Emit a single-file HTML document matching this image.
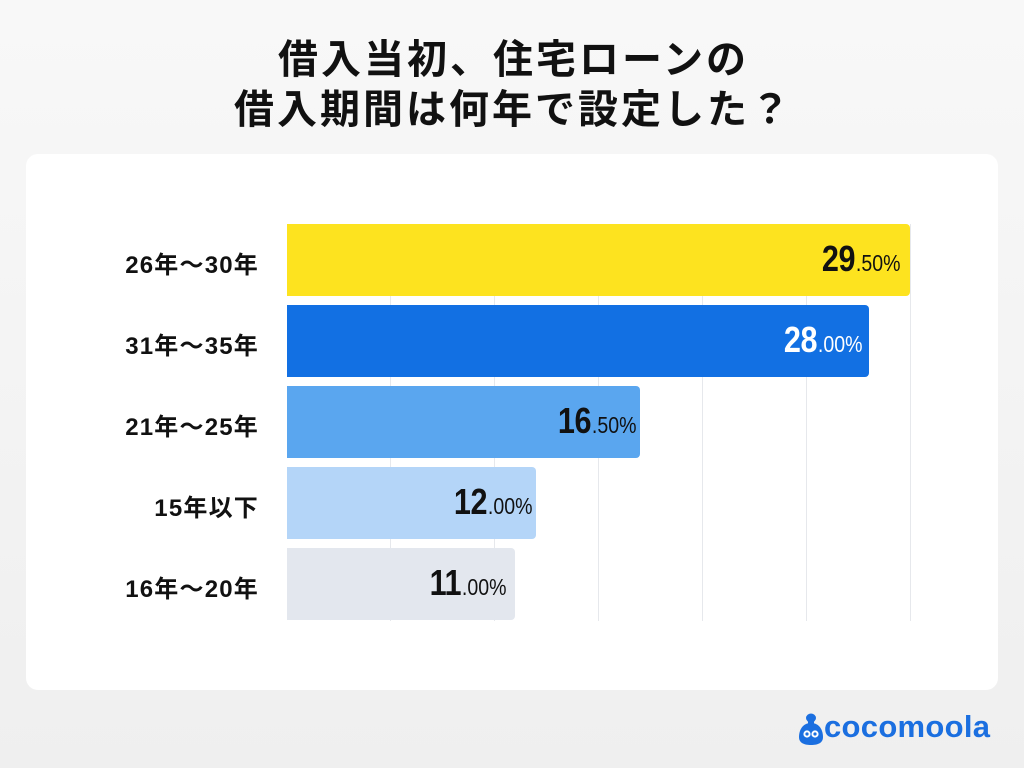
<!DOCTYPE html>
<html>
<head>
<meta charset="utf-8">
<style>
  html,body{margin:0;padding:0;}
  body{width:1024px;height:768px;position:relative;overflow:hidden;
    background:linear-gradient(#f8f8f8,#efefef);
    font-family:"Liberation Sans","Noto Sans CJK JP",sans-serif;}
  .title{position:absolute;left:0;top:35px;width:1024px;text-align:center;
    font-size:40px;line-height:50px;font-weight:700;color:#111;letter-spacing:3px;
    padding-left:3px;box-sizing:border-box;}
  .card{position:absolute;left:26px;top:154px;width:972px;height:536px;background:#fff;border-radius:12px;}
  .grid{position:absolute;top:224px;width:1px;height:397px;background:#e6e8ec;}
  .bar{position:absolute;left:287px;height:72px;border-radius:0 4px 4px 0;}
  .val{position:absolute;right:8px;top:0;height:72px;line-height:70px;white-space:nowrap;color:#111;
    transform:scaleX(0.85);transform-origin:100% 50%;}
  .val b{font-family:"Liberation Sans",sans-serif;font-size:36px;font-weight:700;letter-spacing:-0.5px;margin-right:1px;}
  .val span{font-family:"Liberation Sans",sans-serif;font-size:23px;font-weight:400;}
  .lab{position:absolute;left:40px;width:219px;text-align:right;font-size:24px;font-weight:700;color:#111;
    height:72px;line-height:84px;letter-spacing:1.2px;}
  .logo{position:absolute;left:824px;top:707px;font-size:31px;font-weight:700;color:#1b6fe0;letter-spacing:0.3px;
    font-family:"Liberation Sans",sans-serif;line-height:40px;}
</style>
</head>
<body>
<div class="title">借入当初、住宅ローンの<br>借入期間は何年で設定した？</div>
<div class="card"></div>

<div class="grid" style="left:390px"></div>
<div class="grid" style="left:494px"></div>
<div class="grid" style="left:598px"></div>
<div class="grid" style="left:702px"></div>
<div class="grid" style="left:806px"></div>
<div class="grid" style="left:910px"></div>

<div class="lab" style="top:224px">26年〜30年</div>
<div class="lab" style="top:305px">31年〜35年</div>
<div class="lab" style="top:386px">21年〜25年</div>
<div class="lab" style="top:467px">15年以下</div>
<div class="lab" style="top:548px">16年〜20年</div>

<div class="bar" style="top:224px;width:623px;background:#fde31f;">
  <div class="val" style="right:10px"><b>29</b><span>.50%</span></div>
</div>
<div class="bar" style="top:305px;width:582px;background:#1270e3;">
  <div class="val" style="color:#fff;right:7px"><b>28</b><span>.00%</span></div>
</div>
<div class="bar" style="top:386px;width:353px;background:#5aa6ef;">
  <div class="val" style="right:4px"><b>16</b><span>.50%</span></div>
</div>
<div class="bar" style="top:467px;width:249px;background:#b4d5f8;">
  <div class="val" style="right:4px"><b>12</b><span>.00%</span></div>
</div>
<div class="bar" style="top:548px;width:228px;background:#e3e7ee;">
  <div class="val" style="right:9px"><b>11</b><span>.00%</span></div>
</div>

<svg style="position:absolute;left:798px;top:712px" width="26" height="34" viewBox="0 0 26 34">
  <ellipse cx="13" cy="6" rx="5" ry="4.5" fill="#1b6fe0"/>
  <rect x="10" y="9" width="6" height="4" fill="#1b6fe0"/>
  <path d="M13 11 C4 11 1 19 1 25 C1 31 6 33 13 33 C20 33 25 31 25 25 C25 19 22 11 13 11 Z" fill="#1b6fe0"/>
  <circle cx="9" cy="22" r="3.6" fill="#fff"/>
  <circle cx="17" cy="22" r="3.6" fill="#fff"/>
  <circle cx="9" cy="22" r="1.6" fill="#1b6fe0"/>
  <circle cx="17" cy="22" r="1.6" fill="#1b6fe0"/>
</svg>
<div class="logo">cocomoola</div>
</body>
</html>
